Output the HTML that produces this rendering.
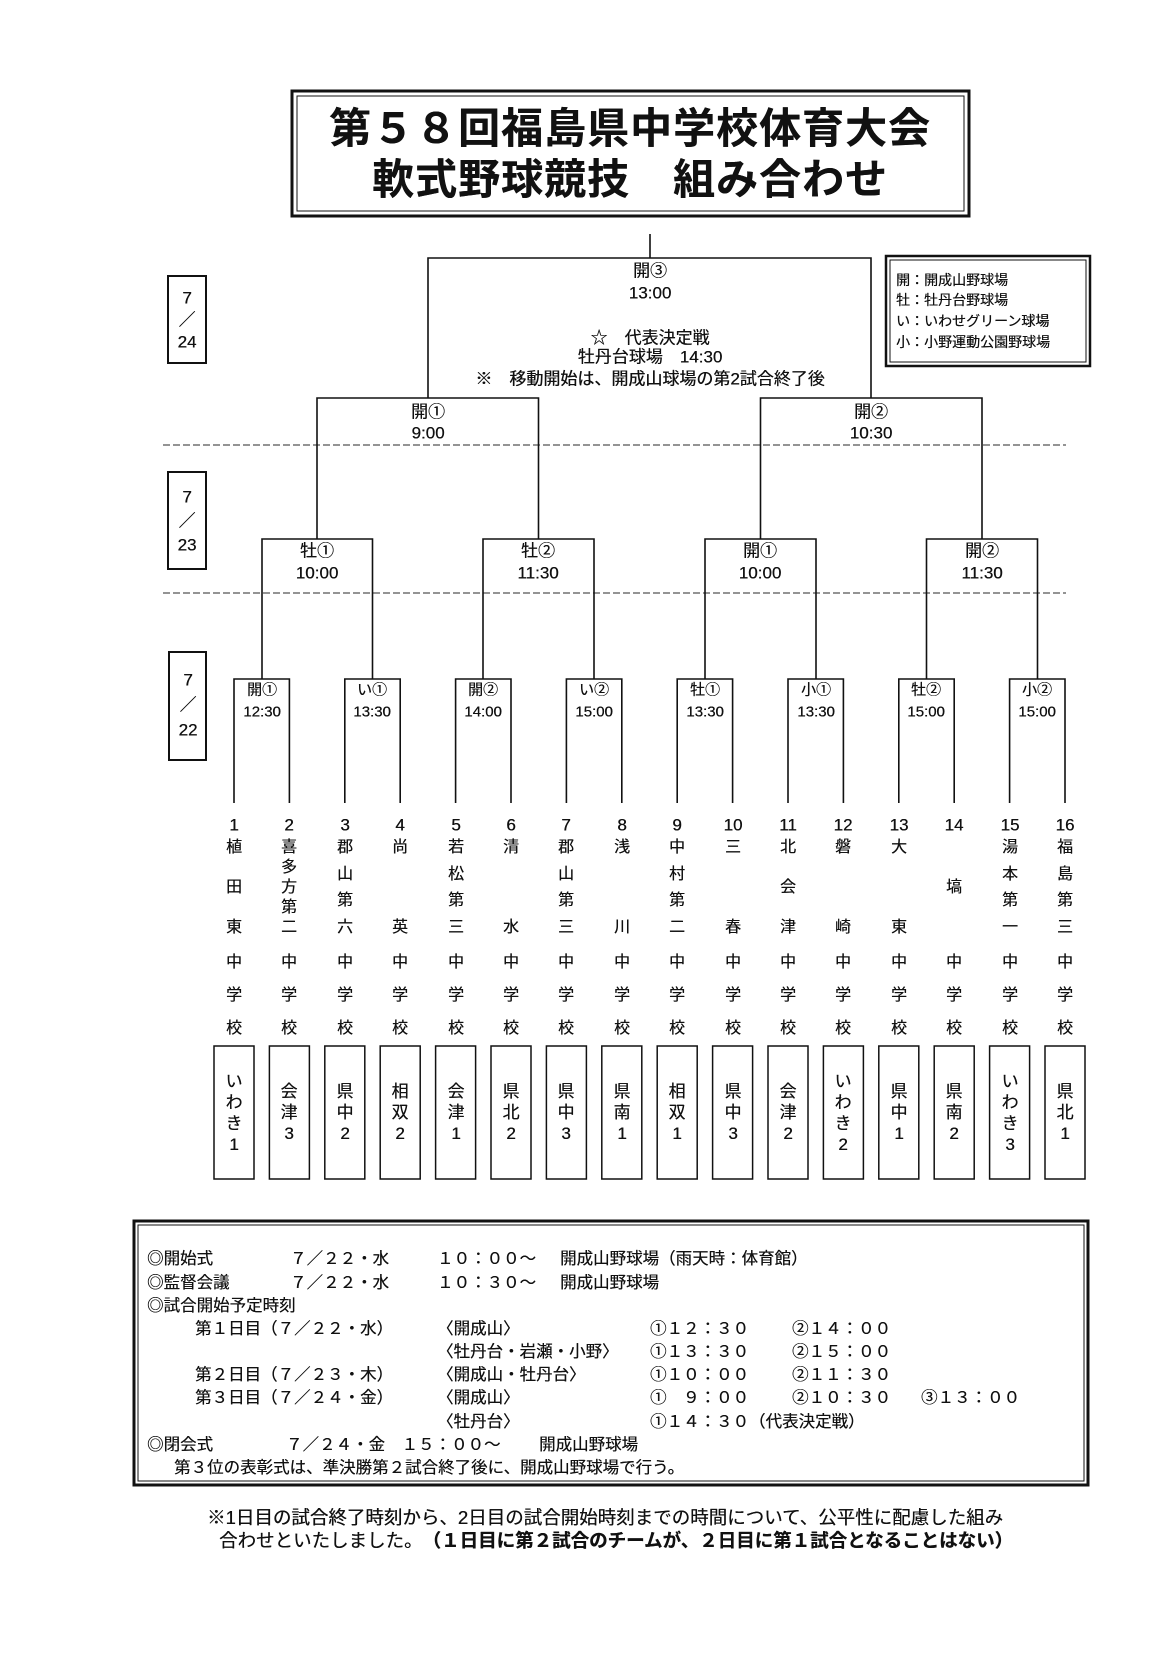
<!DOCTYPE html>
<html><head><meta charset="utf-8">
<style>
html,body{margin:0;padding:0;background:#fff}
body{width:1169px;height:1653px;position:relative;overflow:hidden;font-family:"Liberation Sans","Noto Sans CJK JP",sans-serif;color:#111;text-shadow:0.3px 0 0 #111}
.c{position:absolute;transform:translate(-50%,-50%);white-space:nowrap;line-height:1}
.l{position:absolute;transform:translateY(-50%);white-space:nowrap;line-height:1}
.t{font-weight:bold;font-size:42px;letter-spacing:1px}
.r1{font-size:15px}
.qf{font-size:17px}
.nm{position:absolute;top:838px;height:100px;width:24px;margin-left:-12px;display:flex;flex-direction:column;justify-content:space-between;align-items:center;font-size:16px;line-height:20px}
.nm.one{justify-content:center}
.rg{position:absolute;top:1046px;height:133px;width:40px;margin-left:-20px;display:flex;flex-direction:column;justify-content:center;align-items:center;font-size:17px;line-height:21px}
.b{font-size:16.5px}
.lg{font-size:14px}
svg{position:absolute;left:0;top:0}
</style></head><body>
<svg width="1169" height="1653" viewBox="0 0 1169 1653" fill="none" stroke="#111" stroke-width="1.6">
<rect x="292" y="91" width="677" height="125" stroke-width="3"/>
<rect x="297" y="96" width="667" height="115" stroke-width="1"/>
<rect x="886" y="256" width="204" height="110" stroke-width="2.5"/>
<rect x="890" y="260" width="196" height="102" stroke-width="1"/>
<rect x="134" y="1221" width="954" height="264" stroke-width="3"/>
<rect x="138" y="1225" width="946" height="256" stroke-width="1"/>
<rect x="168" y="276" width="38" height="87" stroke-width="2"/>
<rect x="168" y="472" width="38" height="97" stroke-width="2"/>
<rect x="169" y="652" width="37" height="108" stroke-width="2"/>
<path d="M163 445H1066M163 593H1066" stroke="#555" stroke-width="1.2" stroke-dasharray="7 3"/>
<path d="M650 234V258M428 398V258H871V398"/>
<path d="M317 539V398H538.5V539M760.5 539V398H982V539"/>
<path d="M262 679V539H372.5V679M483 679V539H594V679M705 679V539H816V679M926.5 679V539H1037.5V679"/>
<path d="M234 803V679H289.4V803M344.8 803V679H400.2V803M455.6 803V679H511V803M566.4 803V679H621.8V803M677.2 803V679H732.6V803M788 803V679H843.4V803M898.8 803V679H954.2V803M1009.6 803V679H1065V803"/>
<g stroke-width="1.5">
<rect x="214" y="1046" width="40" height="133"/><rect x="269.4" y="1046" width="40" height="133"/><rect x="324.8" y="1046" width="40" height="133"/><rect x="380.2" y="1046" width="40" height="133"/><rect x="435.6" y="1046" width="40" height="133"/><rect x="491" y="1046" width="40" height="133"/><rect x="546.4" y="1046" width="40" height="133"/><rect x="601.8" y="1046" width="40" height="133"/><rect x="657.2" y="1046" width="40" height="133"/><rect x="712.6" y="1046" width="40" height="133"/><rect x="768" y="1046" width="40" height="133"/><rect x="823.4" y="1046" width="40" height="133"/><rect x="878.8" y="1046" width="40" height="133"/><rect x="934.2" y="1046" width="40" height="133"/><rect x="989.6" y="1046" width="40" height="133"/><rect x="1045" y="1046" width="40" height="133"/>
</g>
</svg>

<div class="c t" style="left:630px;top:129px">第５８回福島県中学校体育大会</div>
<div class="c t" style="left:630px;top:180px">軟式野球競技　組み合わせ</div>

<div class="l lg" style="left:896px;top:280px">開：開成山野球場</div>
<div class="l lg" style="left:896px;top:300px">牡：牡丹台野球場</div>
<div class="l lg" style="left:896px;top:321px">い：いわせグリーン球場</div>
<div class="l lg" style="left:896px;top:342px">小：小野運動公園野球場</div>

<div class="c qf" style="left:187px;top:298px">7</div><div class="c qf" style="left:187px;top:320px">／</div><div class="c qf" style="left:187px;top:342px">24</div>
<div class="c qf" style="left:187px;top:497px">7</div><div class="c qf" style="left:187px;top:521px">／</div><div class="c qf" style="left:187px;top:545px">23</div>
<div class="c qf" style="left:188px;top:680px">7</div><div class="c qf" style="left:188px;top:705px">／</div><div class="c qf" style="left:188px;top:730px">22</div>

<div class="c qf" style="left:650px;top:271px">開③</div>
<div class="c qf" style="left:650px;top:293px">13:00</div>
<div class="c qf" style="left:650px;top:338px">☆　代表決定戦</div>
<div class="c qf" style="left:650px;top:357px">牡丹台球場　14:30</div>
<div class="c qf" style="left:650px;top:379px">※　移動開始は、開成山球場の第2試合終了後</div>

<div class="c qf" style="left:428px;top:412px">開①</div><div class="c qf" style="left:428px;top:433px">9:00</div>
<div class="c qf" style="left:871px;top:412px">開②</div><div class="c qf" style="left:871px;top:433px">10:30</div>

<div class="c qf" style="left:317px;top:551px">牡①</div><div class="c qf" style="left:317px;top:573px">10:00</div>
<div class="c qf" style="left:538px;top:551px">牡②</div><div class="c qf" style="left:538px;top:573px">11:30</div>
<div class="c qf" style="left:760px;top:551px">開①</div><div class="c qf" style="left:760px;top:573px">10:00</div>
<div class="c qf" style="left:982px;top:551px">開②</div><div class="c qf" style="left:982px;top:573px">11:30</div>

<div class="c r1" style="left:262px;top:690px">開①</div><div class="c r1" style="left:262px;top:712px">12:30</div>
<div class="c r1" style="left:372px;top:690px">い①</div><div class="c r1" style="left:372px;top:712px">13:30</div>
<div class="c r1" style="left:483px;top:690px">開②</div><div class="c r1" style="left:483px;top:712px">14:00</div>
<div class="c r1" style="left:594px;top:690px">い②</div><div class="c r1" style="left:594px;top:712px">15:00</div>
<div class="c r1" style="left:705px;top:690px">牡①</div><div class="c r1" style="left:705px;top:712px">13:30</div>
<div class="c r1" style="left:816px;top:690px">小①</div><div class="c r1" style="left:816px;top:712px">13:30</div>
<div class="c r1" style="left:926px;top:690px">牡②</div><div class="c r1" style="left:926px;top:712px">15:00</div>
<div class="c r1" style="left:1037px;top:690px">小②</div><div class="c r1" style="left:1037px;top:712px">15:00</div>

<div class="c qf" style="left:234px;top:825px">1</div><div class="c qf" style="left:289px;top:825px">2</div><div class="c qf" style="left:345px;top:825px">3</div><div class="c qf" style="left:400px;top:825px">4</div><div class="c qf" style="left:456px;top:825px">5</div><div class="c qf" style="left:511px;top:825px">6</div><div class="c qf" style="left:566px;top:825px">7</div><div class="c qf" style="left:622px;top:825px">8</div><div class="c qf" style="left:677px;top:825px">9</div><div class="c qf" style="left:733px;top:825px">10</div><div class="c qf" style="left:788px;top:825px">11</div><div class="c qf" style="left:843px;top:825px">12</div><div class="c qf" style="left:899px;top:825px">13</div><div class="c qf" style="left:954px;top:825px">14</div><div class="c qf" style="left:1010px;top:825px">15</div><div class="c qf" style="left:1065px;top:825px">16</div>

<div class="nm" style="left:234px"><span>植</span><span>田</span><span>東</span></div>
<div class="nm" style="left:289px"><span>喜</span><span>多</span><span>方</span><span>第</span><span>二</span></div>
<div class="nm" style="left:345px"><span>郡</span><span>山</span><span>第</span><span>六</span></div>
<div class="nm" style="left:400px"><span>尚</span><span>英</span></div>
<div class="nm" style="left:456px"><span>若</span><span>松</span><span>第</span><span>三</span></div>
<div class="nm" style="left:511px"><span>清</span><span>水</span></div>
<div class="nm" style="left:566px"><span>郡</span><span>山</span><span>第</span><span>三</span></div>
<div class="nm" style="left:622px"><span>浅</span><span>川</span></div>
<div class="nm" style="left:677px"><span>中</span><span>村</span><span>第</span><span>二</span></div>
<div class="nm" style="left:733px"><span>三</span><span>春</span></div>
<div class="nm" style="left:788px"><span>北</span><span>会</span><span>津</span></div>
<div class="nm" style="left:843px"><span>磐</span><span>崎</span></div>
<div class="nm" style="left:899px"><span>大</span><span>東</span></div>
<div class="nm one" style="left:954px"><span>塙</span></div>
<div class="nm" style="left:1010px"><span>湯</span><span>本</span><span>第</span><span>一</span></div>
<div class="nm" style="left:1065px"><span>福</span><span>島</span><span>第</span><span>三</span></div>

<div class="nm" style="left:234px;top:953px;height:86px"><span>中</span><span>学</span><span>校</span></div>
<div class="nm" style="left:289px;top:953px;height:86px"><span>中</span><span>学</span><span>校</span></div>
<div class="nm" style="left:345px;top:953px;height:86px"><span>中</span><span>学</span><span>校</span></div>
<div class="nm" style="left:400px;top:953px;height:86px"><span>中</span><span>学</span><span>校</span></div>
<div class="nm" style="left:456px;top:953px;height:86px"><span>中</span><span>学</span><span>校</span></div>
<div class="nm" style="left:511px;top:953px;height:86px"><span>中</span><span>学</span><span>校</span></div>
<div class="nm" style="left:566px;top:953px;height:86px"><span>中</span><span>学</span><span>校</span></div>
<div class="nm" style="left:622px;top:953px;height:86px"><span>中</span><span>学</span><span>校</span></div>
<div class="nm" style="left:677px;top:953px;height:86px"><span>中</span><span>学</span><span>校</span></div>
<div class="nm" style="left:733px;top:953px;height:86px"><span>中</span><span>学</span><span>校</span></div>
<div class="nm" style="left:788px;top:953px;height:86px"><span>中</span><span>学</span><span>校</span></div>
<div class="nm" style="left:843px;top:953px;height:86px"><span>中</span><span>学</span><span>校</span></div>
<div class="nm" style="left:899px;top:953px;height:86px"><span>中</span><span>学</span><span>校</span></div>
<div class="nm" style="left:954px;top:953px;height:86px"><span>中</span><span>学</span><span>校</span></div>
<div class="nm" style="left:1010px;top:953px;height:86px"><span>中</span><span>学</span><span>校</span></div>
<div class="nm" style="left:1065px;top:953px;height:86px"><span>中</span><span>学</span><span>校</span></div>

<div class="rg" style="left:234px"><span>い</span><span>わ</span><span>き</span><span>1</span></div>
<div class="rg" style="left:289px"><span>会</span><span>津</span><span>3</span></div>
<div class="rg" style="left:345px"><span>県</span><span>中</span><span>2</span></div>
<div class="rg" style="left:400px"><span>相</span><span>双</span><span>2</span></div>
<div class="rg" style="left:456px"><span>会</span><span>津</span><span>1</span></div>
<div class="rg" style="left:511px"><span>県</span><span>北</span><span>2</span></div>
<div class="rg" style="left:566px"><span>県</span><span>中</span><span>3</span></div>
<div class="rg" style="left:622px"><span>県</span><span>南</span><span>1</span></div>
<div class="rg" style="left:677px"><span>相</span><span>双</span><span>1</span></div>
<div class="rg" style="left:733px"><span>県</span><span>中</span><span>3</span></div>
<div class="rg" style="left:788px"><span>会</span><span>津</span><span>2</span></div>
<div class="rg" style="left:843px"><span>い</span><span>わ</span><span>き</span><span>2</span></div>
<div class="rg" style="left:899px"><span>県</span><span>中</span><span>1</span></div>
<div class="rg" style="left:954px"><span>県</span><span>南</span><span>2</span></div>
<div class="rg" style="left:1010px"><span>い</span><span>わ</span><span>き</span><span>3</span></div>
<div class="rg" style="left:1065px"><span>県</span><span>北</span><span>1</span></div>

<div class="l b" style="left:147px;top:1259px">◎開始式</div>
<div class="l b" style="left:290px;top:1259px">７／２２・水</div>
<div class="l b" style="left:437px;top:1259px">１０：００～</div>
<div class="l b" style="left:560px;top:1259px">開成山野球場（雨天時：体育館）</div>
<div class="l b" style="left:147px;top:1283px">◎監督会議</div>
<div class="l b" style="left:290px;top:1283px">７／２２・水</div>
<div class="l b" style="left:437px;top:1283px">１０：３０～</div>
<div class="l b" style="left:560px;top:1283px">開成山野球場</div>
<div class="l b" style="left:147px;top:1306px">◎試合開始予定時刻</div>
<div class="l b" style="left:195px;top:1329px">第１日目（７／２２・水）</div>
<div class="l b" style="left:437px;top:1329px">〈開成山〉</div>
<div class="l b" style="left:650px;top:1329px">①１２：３０</div>
<div class="l b" style="left:792px;top:1329px">②１４：００</div>
<div class="l b" style="left:437px;top:1352px">〈牡丹台・岩瀬・小野〉</div>
<div class="l b" style="left:650px;top:1352px">①１３：３０</div>
<div class="l b" style="left:792px;top:1352px">②１５：００</div>
<div class="l b" style="left:195px;top:1375px">第２日目（７／２３・木）</div>
<div class="l b" style="left:437px;top:1375px">〈開成山・牡丹台〉</div>
<div class="l b" style="left:650px;top:1375px">①１０：００</div>
<div class="l b" style="left:792px;top:1375px">②１１：３０</div>
<div class="l b" style="left:195px;top:1398px">第３日目（７／２４・金）</div>
<div class="l b" style="left:437px;top:1398px">〈開成山〉</div>
<div class="l b" style="left:650px;top:1398px">①　９：００</div>
<div class="l b" style="left:792px;top:1398px">②１０：３０</div>
<div class="l b" style="left:921px;top:1398px">③１３：００</div>
<div class="l b" style="left:437px;top:1422px">〈牡丹台〉</div>
<div class="l b" style="left:650px;top:1422px">①１４：３０（代表決定戦）</div>
<div class="l b" style="left:147px;top:1445px">◎閉会式</div>
<div class="l b" style="left:286px;top:1445px">７／２４・金　１５：００～</div>
<div class="l b" style="left:539px;top:1445px">開成山野球場</div>
<div class="l b" style="left:174px;top:1468px">第３位の表彰式は、準決勝第２試合終了後に、開成山野球場で行う。</div>

<div class="l" style="left:207px;top:1518px;font-size:18.5px">※1日目の試合終了時刻から、2日目の試合開始時刻までの時間について、公平性に配慮した組み</div>
<div class="l" style="left:219px;top:1541px;font-size:18.5px">合わせといたしました。　<b>（１日目に第２試合のチームが、２日目に第１試合となることはない）</b></div>
</body></html>
